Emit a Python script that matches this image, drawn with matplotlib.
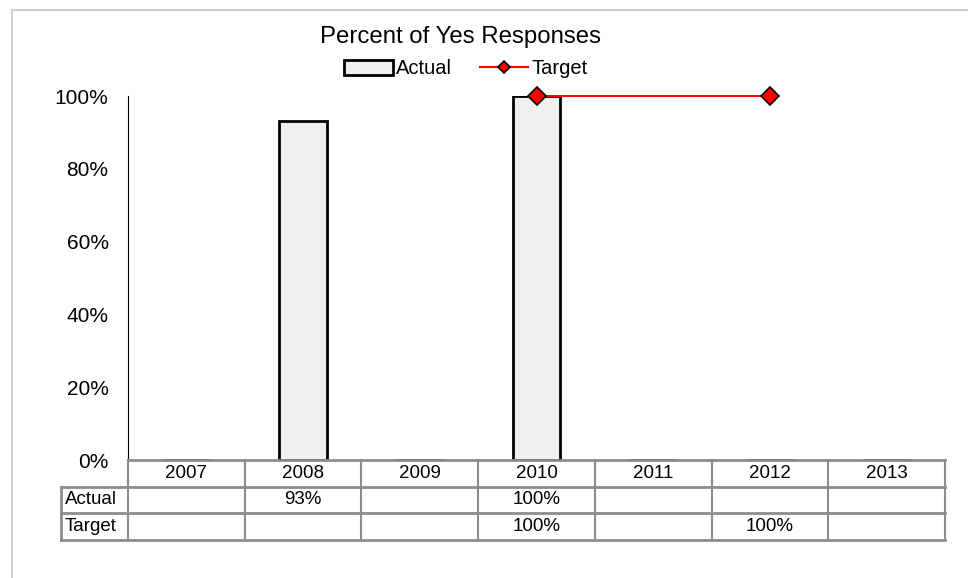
import numpy as np
import matplotlib.pyplot as plt
from matplotlib.lines import Line2D

plt.rcParams['font.family'] = ['Liberation Sans', 'DejaVu Sans']

years = ['2007', '2008', '2009', '2010', '2011', '2012', '2013']
actual = [np.nan, 93, np.nan, 100, np.nan, np.nan, np.nan]
target = [np.nan, np.nan, np.nan, 100, np.nan, 100, np.nan]
row_names = ['Actual', 'Target']
yticks = [0, 20, 40, 60, 80, 100]

W, H = 968, 578
fig = plt.figure(figsize=(W / 100, H / 100), dpi=100)

# rahmen um das ganze diagramm (nur oben und links sichtbar)
fig.add_artist(Line2D([12 / W, 12 / W], [0, 1 - 10 / H], color='#d0d0d0', lw=1.5))
fig.add_artist(Line2D([12 / W, 1], [1 - 10 / H, 1 - 10 / H], color='#d0d0d0', lw=1.5))

x0, x1 = 128, 945
ytop, ybot = 96, 460
ax = fig.add_axes([x0 / W, 1 - ybot / H, (x1 - x0) / W, (ybot - ytop) / H])

x = np.arange(len(years))
a = np.array(actual, dtype=float)
t = np.array(target, dtype=float)

bars = ax.bar(x, np.nan_to_num(a), width=0.41, color='#f0f0f0', edgecolor='black', lw=2,
              label='Actual', zorder=2)
ok = ~np.isnan(t)
line, = ax.plot(x[ok], t[ok], color='red', lw=1.5, marker='D', markersize=9.5,
                markerfacecolor='red', markeredgecolor='black', markeredgewidth=1.2,
                label='Target', zorder=3, clip_on=False)

ax.set_xlim(-0.5, len(years) - 0.5)
ax.set_ylim(0, 100)
ax.set_yticks(yticks)
ax.set_yticklabels([f'{v}%' for v in yticks], fontsize=15)
ax.tick_params(axis='y', length=0, pad=14)
ax.set_xticks([])
for s in ['top', 'right', 'bottom']:
    ax.spines[s].set_visible(False)
ax.spines['left'].set_linewidth(0.8)

fig.text(461 / W, 1 - 37 / H, 'Percent of Yes Responses', ha='center', va='center',
         fontsize=17.3)
fig.legend([bars, line], ['Actual', 'Target'], loc='center',
           bbox_to_anchor=(466 / W, 1 - 69 / H), ncol=2, frameon=False,
           fontsize=14.5, handlelength=2.4, handletextpad=0.15, columnspacing=1.4,
           borderpad=0, markerscale=0.6)

# datentabelle unter der achse
xl = 61
tbot = 540
cw = (x1 - x0) / len(years)
tax = fig.add_axes([xl / W, 1 - tbot / H, (x1 - xl) / W, (tbot - ybot) / H])
left = -0.5 - (x0 - xl) / cw
right = len(years) - 0.5
tax.set_xlim(left, right)
tax.set_ylim(3, 0)
tax.axis('off')
lc = '#8c8c8c'
tax.plot([-0.5, right], [0, 0], color=lc, lw=2, clip_on=False)
for r in [1, 2, 3]:
    tax.plot([left, right], [r, r], color=lc, lw=2, clip_on=False)
tax.plot([left, left], [1, 3], color=lc, lw=2, clip_on=False)
for i in range(len(years) + 1):
    tax.plot([i - 0.5, i - 0.5], [0, 3], color=lc, lw=1.5, clip_on=False)

for i, yr in enumerate(years):
    tax.text(i, 0.5, yr, ha='center', va='center', fontsize=13.5)
for r, (name, vals) in enumerate(zip(row_names, [actual, target]), start=1):
    tax.text(left + 0.03, r + 0.5, name, ha='left', va='center', fontsize=13.5)
    for i, v in enumerate(vals):
        if not np.isnan(v):
            tax.text(i, r + 0.5, f'{v:.0f}%', ha='center', va='center', fontsize=13.5)

fig.savefig('out.png', dpi=100)
